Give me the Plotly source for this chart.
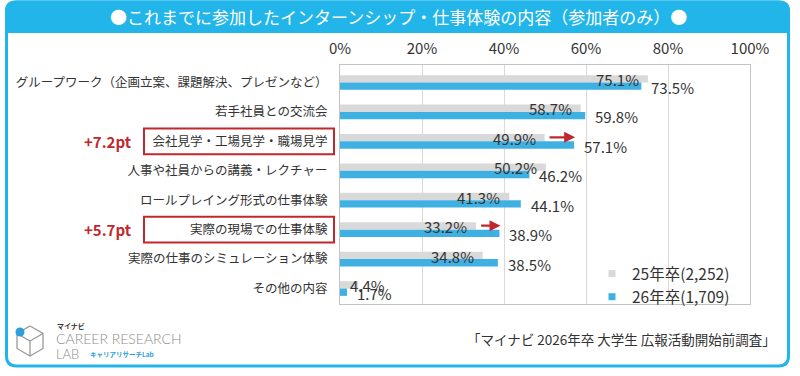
import plotly.graph_objects as go

categories = [
    "グループワーク（企画立案、課題解決、プレゼンなど）",
    "若手社員との交流会",
    "会社見学・工場見学・職場見学",
    "人事や社員からの講義・レクチャー",
    "ロールプレイング形式の仕事体験",
    "実際の現場での仕事体験",
    "実際の仕事のシミュレーション体験",
    "その他の内容",
]
values_25 = [75.1, 58.7, 49.9, 50.2, 41.3, 33.2, 34.8, 4.4]
values_26 = [73.5, 59.8, 57.1, 46.2, 44.1, 38.9, 38.5, 1.7]
series_names = ["25年卒(2,252)", "26年卒(1,709)"]
highlight_idx = [2, 5]
x_ticks = [0, 20, 40, 60, 80, 100]

W, H = 800, 376
L, R, T, B = 340, 750, 65, 304
FONT = "Noto Sans CJK JP"
GRAY = "#d9d9d9"
BLUE = "#3eb1e2"
FRAME = "#22b5ea"
RED = "#c0282d"
TXT = "#333333"


def px(x):
    return (x - L) / (R - L)


def py(y):
    return (B - y) / (B - T)


def P(x, y):
    return f"{px(x):.5f},{py(y):.5f}"


fig = go.Figure()
fig.add_trace(go.Bar(
    y=categories, x=values_25, orientation="h", name=series_names[0],
    marker=dict(color=GRAY, line=dict(width=0)), hoverinfo="skip", showlegend=False,
))
fig.add_trace(go.Bar(
    y=categories, x=values_26, orientation="h", name=series_names[1],
    marker=dict(color=BLUE, line=dict(width=0)), hoverinfo="skip", showlegend=False,
))
# legend entries (small square keys like the reference)
for name, col in zip(series_names, [GRAY, BLUE]):
    fig.add_trace(go.Scatter(x=[None], y=[None], mode="markers", name=name,
                             marker=dict(symbol="square", size=7, color=col),
                             showlegend=True, hoverinfo="skip"))

annotations = []
shapes = []

# value labels
for c, g, b in zip(categories, values_25, values_26):
    if g >= 10:
        annotations.append(dict(x=g, y=c, xref="x", yref="y", text=f"{g:.1f}%",
                                xanchor="right", yanchor="middle", xshift=-7, yshift=3,
                                showarrow=False, font=dict(family=FONT, size=15, color=TXT)))
    else:
        annotations.append(dict(x=0, y=c, xref="x", yref="y", text=f"{g:.1f}%",
                                xanchor="left", yanchor="middle", xshift=8, yshift=3,
                                showarrow=False, font=dict(family=FONT, size=15, color=TXT)))
    annotations.append(dict(x=b, y=c, xref="x", yref="y", text=f"{b:.1f}%",
                            xanchor="left", yanchor="middle", xshift=8, yshift=-5,
                            showarrow=False, font=dict(family=FONT, size=15, color=TXT)))

# highlights: arrows, red boxes, +pt text
for i in highlight_idx:
    c = categories[i]
    g, b = values_25[i], values_26[i]
    annotations.append(dict(x=b, y=c, xref="x", yref="y", ax=g + 0.6, ay=c,
                            axref="x", ayref="y", text="", showarrow=True,
                            arrowhead=2, arrowsize=1, arrowwidth=2.2, arrowcolor=RED,
                            xshift=1, yshift=4))
    annotations.append(dict(x=px(134), y=c, xref="paper", yref="y",
                            text=f"<b>+{b - g:.1f}pt</b>", xanchor="right", yanchor="middle",
                            showarrow=False, font=dict(family=FONT, size=15, color=RED)))
    shapes.append(dict(type="rect", xref="paper", yref="y",
                       x0=px(144), x1=px(334), y0=i - 0.44, y1=i + 0.44,
                       line=dict(color=RED, width=2), fillcolor="rgba(0,0,0,0)"))


def rounded_rect_path(x0, y0, x1, y1, r, top_only=False):
    if top_only:
        return (f"M{P(x0, y1)} L{P(x0, y0 + r)} Q{P(x0, y0)} {P(x0 + r, y0)} "
                f"L{P(x1 - r, y0)} Q{P(x1, y0)} {P(x1, y0 + r)} L{P(x1, y1)} Z")
    return (f"M{P(x0 + r, y0)} L{P(x1 - r, y0)} Q{P(x1, y0)} {P(x1, y0 + r)} "
            f"L{P(x1, y1 - r)} Q{P(x1, y1)} {P(x1 - r, y1)} L{P(x0 + r, y1)} "
            f"Q{P(x0, y1)} {P(x0, y1 - r)} L{P(x0, y0 + r)} Q{P(x0, y0)} {P(x0 + r, y0)} Z")


# outer frame
shapes.append(dict(type="path", xref="paper", yref="paper",
                   path=rounded_rect_path(6.5, 2, 788.5, 366, 10),
                   line=dict(color=FRAME, width=3), fillcolor="rgba(0,0,0,0)", layer="below"))
# title band
shapes.append(dict(type="path", xref="paper", yref="paper",
                   path=rounded_rect_path(5, 0.5, 790, 33, 11, top_only=True),
                   line=dict(color=FRAME, width=0), fillcolor=FRAME, layer="below"))

annotations.append(dict(x=px(398), y=py(17), xref="paper", yref="paper",
                        text="●これまでに参加したインターンシップ・仕事体験の内容（参加者のみ）●",
                        showarrow=False, xanchor="center", yanchor="middle",
                        font=dict(family=FONT, size=17, color="white")))

# footer source
annotations.append(dict(x=px(778), y=py(339), xref="paper", yref="paper",
                        text="「マイナビ 2026年卒 大学生 広報活動開始前調査」",
                        showarrow=False, xanchor="right", yanchor="middle",
                        font=dict(family=FONT, size=13.5, color=TXT)))

# logo
LOGO_GRAY = "#9a9a9a"
cx, cy, rr = 30, 341, 15
hexpath = (f"M{P(cx, cy - rr)} L{P(cx + 13, cy - 7.5)} L{P(cx + 13, cy + 7.5)} "
           f"L{P(cx, cy + rr)} L{P(cx - 13, cy + 7.5)} L{P(cx - 13, cy - 7.5)} Z")
shapes.append(dict(type="path", xref="paper", yref="paper", path=hexpath,
                   line=dict(color=LOGO_GRAY, width=1.3)))
inner = (f"M{P(cx - 13, cy - 7.5)} L{P(cx, cy)} L{P(cx + 13, cy - 7.5)} "
         f"M{P(cx, cy)} L{P(cx, cy + rr)}")
shapes.append(dict(type="path", xref="paper", yref="paper", path=inner,
                   line=dict(color=LOGO_GRAY, width=1.3)))
shapes.append(dict(type="circle", xref="paper", yref="paper",
                   x0=px(15.5), x1=px(24.5), y0=py(327.5), y1=py(336.5),
                   fillcolor="#2a9fd8", line=dict(width=0)))
annotations += [
    dict(x=px(55), y=py(326), xref="paper", yref="paper", text="<b>マイナビ</b>",
         showarrow=False, xanchor="left", yanchor="middle",
         font=dict(family=FONT, size=7, color=TXT)),
    dict(x=px(54), y=py(338), xref="paper", yref="paper", text="CAREER RESEARCH",
         showarrow=False, xanchor="left", yanchor="middle",
         font=dict(family="Lato", size=14, color="#8c8c8c", weight=300)),
    dict(x=px(54), y=py(354), xref="paper", yref="paper", text="LAB",
         showarrow=False, xanchor="left", yanchor="middle",
         font=dict(family="Lato", size=13, color="#8c8c8c", weight=300)),
    dict(x=px(88), y=py(354), xref="paper", yref="paper", text="<b>キャリアリサーチLab</b>",
         showarrow=False, xanchor="left", yanchor="middle",
         font=dict(family=FONT, size=6.5, color="#2a9fd8")),
]

fig.update_layout(
    width=W, height=H,
    margin=dict(l=L, r=W - R, t=T, b=H - B, pad=0),
    paper_bgcolor="white", plot_bgcolor="white",
    barmode="group", bargap=0.5, bargroupgap=0,
    font=dict(family=FONT, color=TXT),
    showlegend=True,
    legend=dict(x=px(592), y=py(257), xanchor="left", yanchor="top",
                traceorder="normal", bgcolor="rgba(0,0,0,0)",
                font=dict(family=FONT, size=15.5, color=TXT),
                itemwidth=30, tracegroupgap=0),
    xaxis=dict(range=[0, 100], side="top", tickvals=x_ticks,
               ticktext=[f"{v}%" for v in x_ticks],
               showgrid=True, gridcolor=GRAY, gridwidth=1,
               showline=True, mirror=True, linecolor="#c4c4c4", linewidth=1,
               zeroline=False, ticks="", ticklabelstandoff=4,
               tickfont=dict(family=FONT, size=15, color=TXT), fixedrange=True),
    yaxis=dict(categoryorder="array", categoryarray=categories, autorange="reversed",
               showline=True, mirror=True, linecolor="#c4c4c4", linewidth=1,
               showgrid=False, ticks="", ticklabelstandoff=9,
               tickfont=dict(family=FONT, size=12.5, color=TXT), fixedrange=True),
    annotations=annotations,
    shapes=shapes,
)

fig.write_html("out.html", config={"displayModeBar": False},
               post_script="document.body.style.margin='0';document.body.style.overflow='hidden';")
